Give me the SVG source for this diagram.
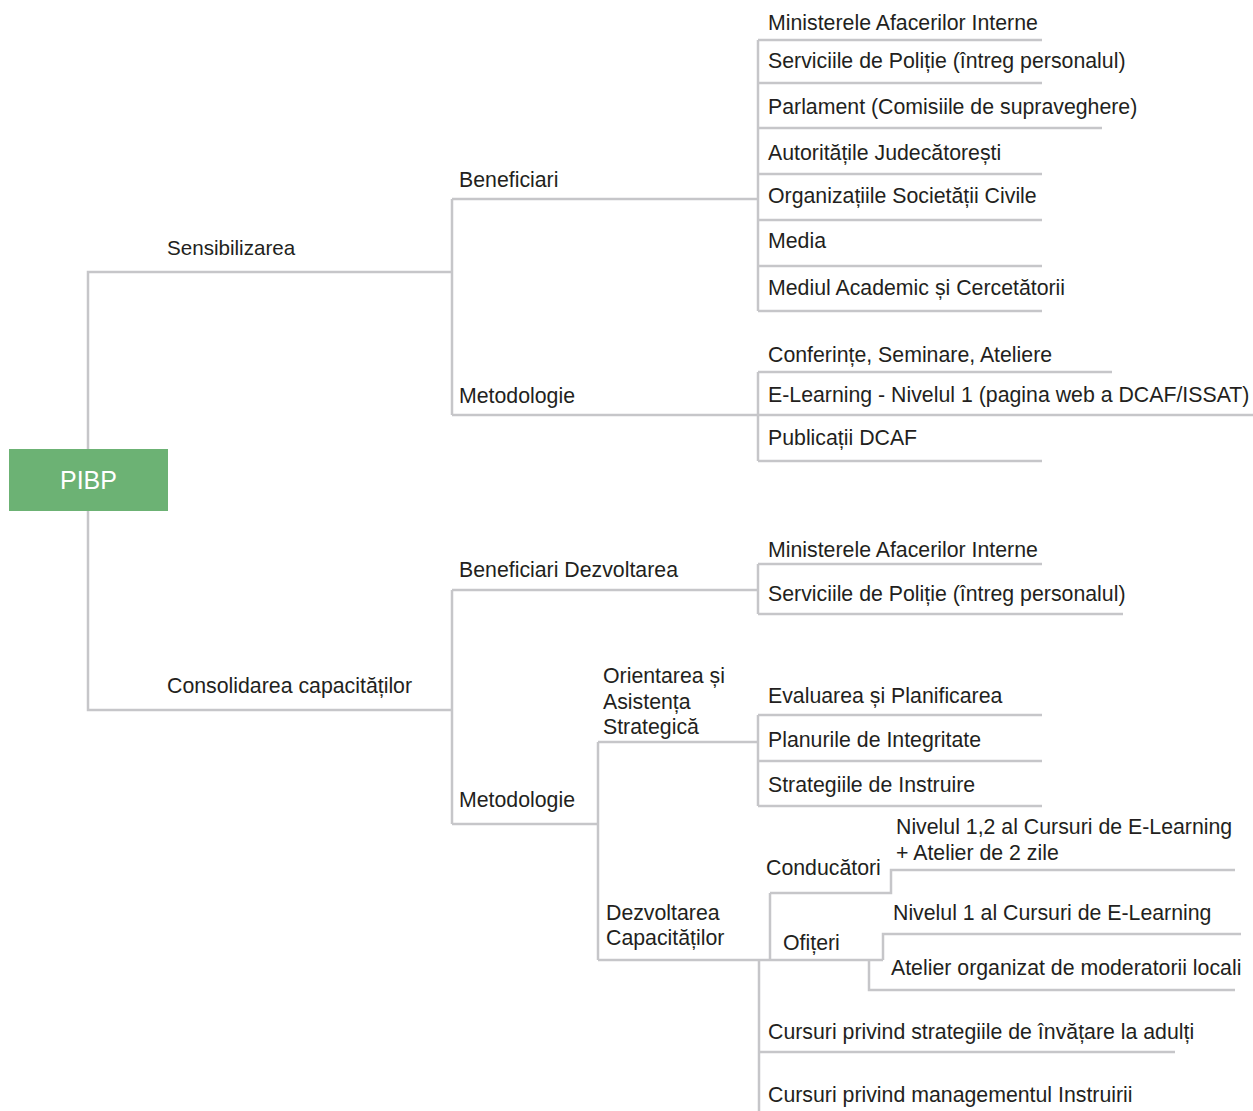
<svg xmlns="http://www.w3.org/2000/svg" width="1253" height="1111" viewBox="0 0 1253 1111">
  <style>
    .lbl { font-family: "Liberation Sans", Arial, sans-serif; font-size: 21.3px; fill: #231f20; }
    .root-lbl { font-family: "Liberation Sans", Arial, sans-serif; font-size: 25px; fill: #ffffff; text-anchor: middle; }
    .conn path { fill: none; stroke: #c6c6c9; stroke-width: 2.5; stroke-linejoin: miter; }
  </style>
  <rect width="1253" height="1111" fill="#ffffff"/>

  <!-- connectors -->
  <g id="connectors" class="conn">
    <!-- root branches -->
    <path d="M88 449V272H452"/>
    <path d="M88 511V710H452"/>
    <!-- Sensibilizarea -->
    <path d="M452 199V415M452 199H758M452 415H758"/>
    <!-- Beneficiari list -->
    <path d="M758 40V311M758 40H1042M758 83H1042M758 128H1102M758 174H1042M758 220H1042M758 266H1042M758 311H1042"/>
    <!-- Metodologie list -->
    <path d="M758 372V461M758 372H1112M758 415H1253M758 461H1042"/>
    <!-- Consolidarea -->
    <path d="M452 590V824M452 590H758M452 824H598"/>
    <path d="M758 564V614M758 564H1042M758 614H1123"/>
    <!-- Metodologie (lower) -->
    <path d="M598 742V960M598 742H758"/>
    <path d="M758 715V806M758 715H1042M758 761H1042M758 806H1042"/>
    <path d="M598 960H883"/>
    <!-- Conducatori -->
    <path d="M770 893V960M770 893H891V870H1235"/>
    <!-- Ofiteri -->
    <path d="M883 960V934H1241M869 960V990H1235"/>
    <!-- course list -->
    <path d="M759 960V1111M759 1052H1175"/>
  </g>

  <!-- root -->
  <g id="node-pibp">
    <rect x="9" y="449" width="159" height="62" fill="#6cb274"/>
    <text class="root-lbl" x="88.5" y="489">PIBP</text>
  </g>

  <!-- first level -->
  <g id="node-sensibilizarea"><text class="lbl" x="167" y="255" style="font-size:20.6px">Sensibilizarea</text></g>
  <g id="node-consolidarea"><text class="lbl" x="167" y="693">Consolidarea capacităților</text></g>

  <!-- Sensibilizarea children -->
  <g id="node-beneficiari"><text class="lbl" x="459" y="187">Beneficiari</text></g>
  <g id="node-metodologie-1"><text class="lbl" x="459" y="403">Metodologie</text></g>

  <g id="node-b1"><text class="lbl" x="768" y="30">Ministerele Afacerilor Interne</text></g>
  <g id="node-b2"><text class="lbl" x="768" y="68">Serviciile de Poliție (întreg personalul)</text></g>
  <g id="node-b3"><text class="lbl" x="768" y="114">Parlament (Comisiile de supraveghere)</text></g>
  <g id="node-b4"><text class="lbl" x="768" y="160">Autoritățile Judecătorești</text></g>
  <g id="node-b5"><text class="lbl" x="768" y="203">Organizațiile Societății Civile</text></g>
  <g id="node-b6"><text class="lbl" x="768" y="248">Media</text></g>
  <g id="node-b7"><text class="lbl" x="768" y="295">Mediul Academic și Cercetătorii</text></g>

  <g id="node-m1"><text class="lbl" x="768" y="362">Conferințe, Seminare, Ateliere</text></g>
  <g id="node-m2"><text class="lbl" x="768" y="402">E-Learning - Nivelul 1 (pagina web a DCAF/ISSAT)</text></g>
  <g id="node-m3"><text class="lbl" x="768" y="445">Publicații DCAF</text></g>

  <!-- Consolidarea children -->
  <g id="node-beneficiari-dezv"><text class="lbl" x="459" y="577">Beneficiari Dezvoltarea</text></g>
  <g id="node-metodologie-2"><text class="lbl" x="459" y="807">Metodologie</text></g>

  <g id="node-bd1"><text class="lbl" x="768" y="557">Ministerele Afacerilor Interne</text></g>
  <g id="node-bd2"><text class="lbl" x="768" y="601">Serviciile de Poliție (întreg personalul)</text></g>

  <g id="node-orientarea">
    <text class="lbl" x="603" y="683">Orientarea și</text>
    <text class="lbl" x="603" y="708.5">Asistența</text>
    <text class="lbl" x="603" y="734">Strategică</text>
  </g>
  <g id="node-o1"><text class="lbl" x="768" y="703">Evaluarea și Planificarea</text></g>
  <g id="node-o2"><text class="lbl" x="768" y="747">Planurile de Integritate</text></g>
  <g id="node-o3"><text class="lbl" x="768" y="792">Strategiile de Instruire</text></g>

  <g id="node-dezvoltarea">
    <text class="lbl" x="606" y="920">Dezvoltarea</text>
    <text class="lbl" x="606" y="945">Capacităților</text>
  </g>
  <g id="node-conducatori"><text class="lbl" x="766" y="875">Conducători</text></g>
  <g id="node-c1">
    <text class="lbl" x="896" y="834">Nivelul 1,2 al Cursuri de E-Learning</text>
    <text class="lbl" x="896" y="860">+ Atelier de 2 zile</text>
  </g>
  <g id="node-ofiteri"><text class="lbl" x="783" y="950">Ofițeri</text></g>
  <g id="node-of1"><text class="lbl" x="893" y="920">Nivelul 1 al Cursuri de E-Learning</text></g>
  <g id="node-of2"><text class="lbl" x="891" y="975">Atelier organizat de moderatorii locali</text></g>
  <g id="node-d1"><text class="lbl" x="768" y="1039">Cursuri privind strategiile de învățare la adulți</text></g>
  <g id="node-d2"><text class="lbl" x="768" y="1102">Cursuri privind managementul Instruirii</text></g>
</svg>
